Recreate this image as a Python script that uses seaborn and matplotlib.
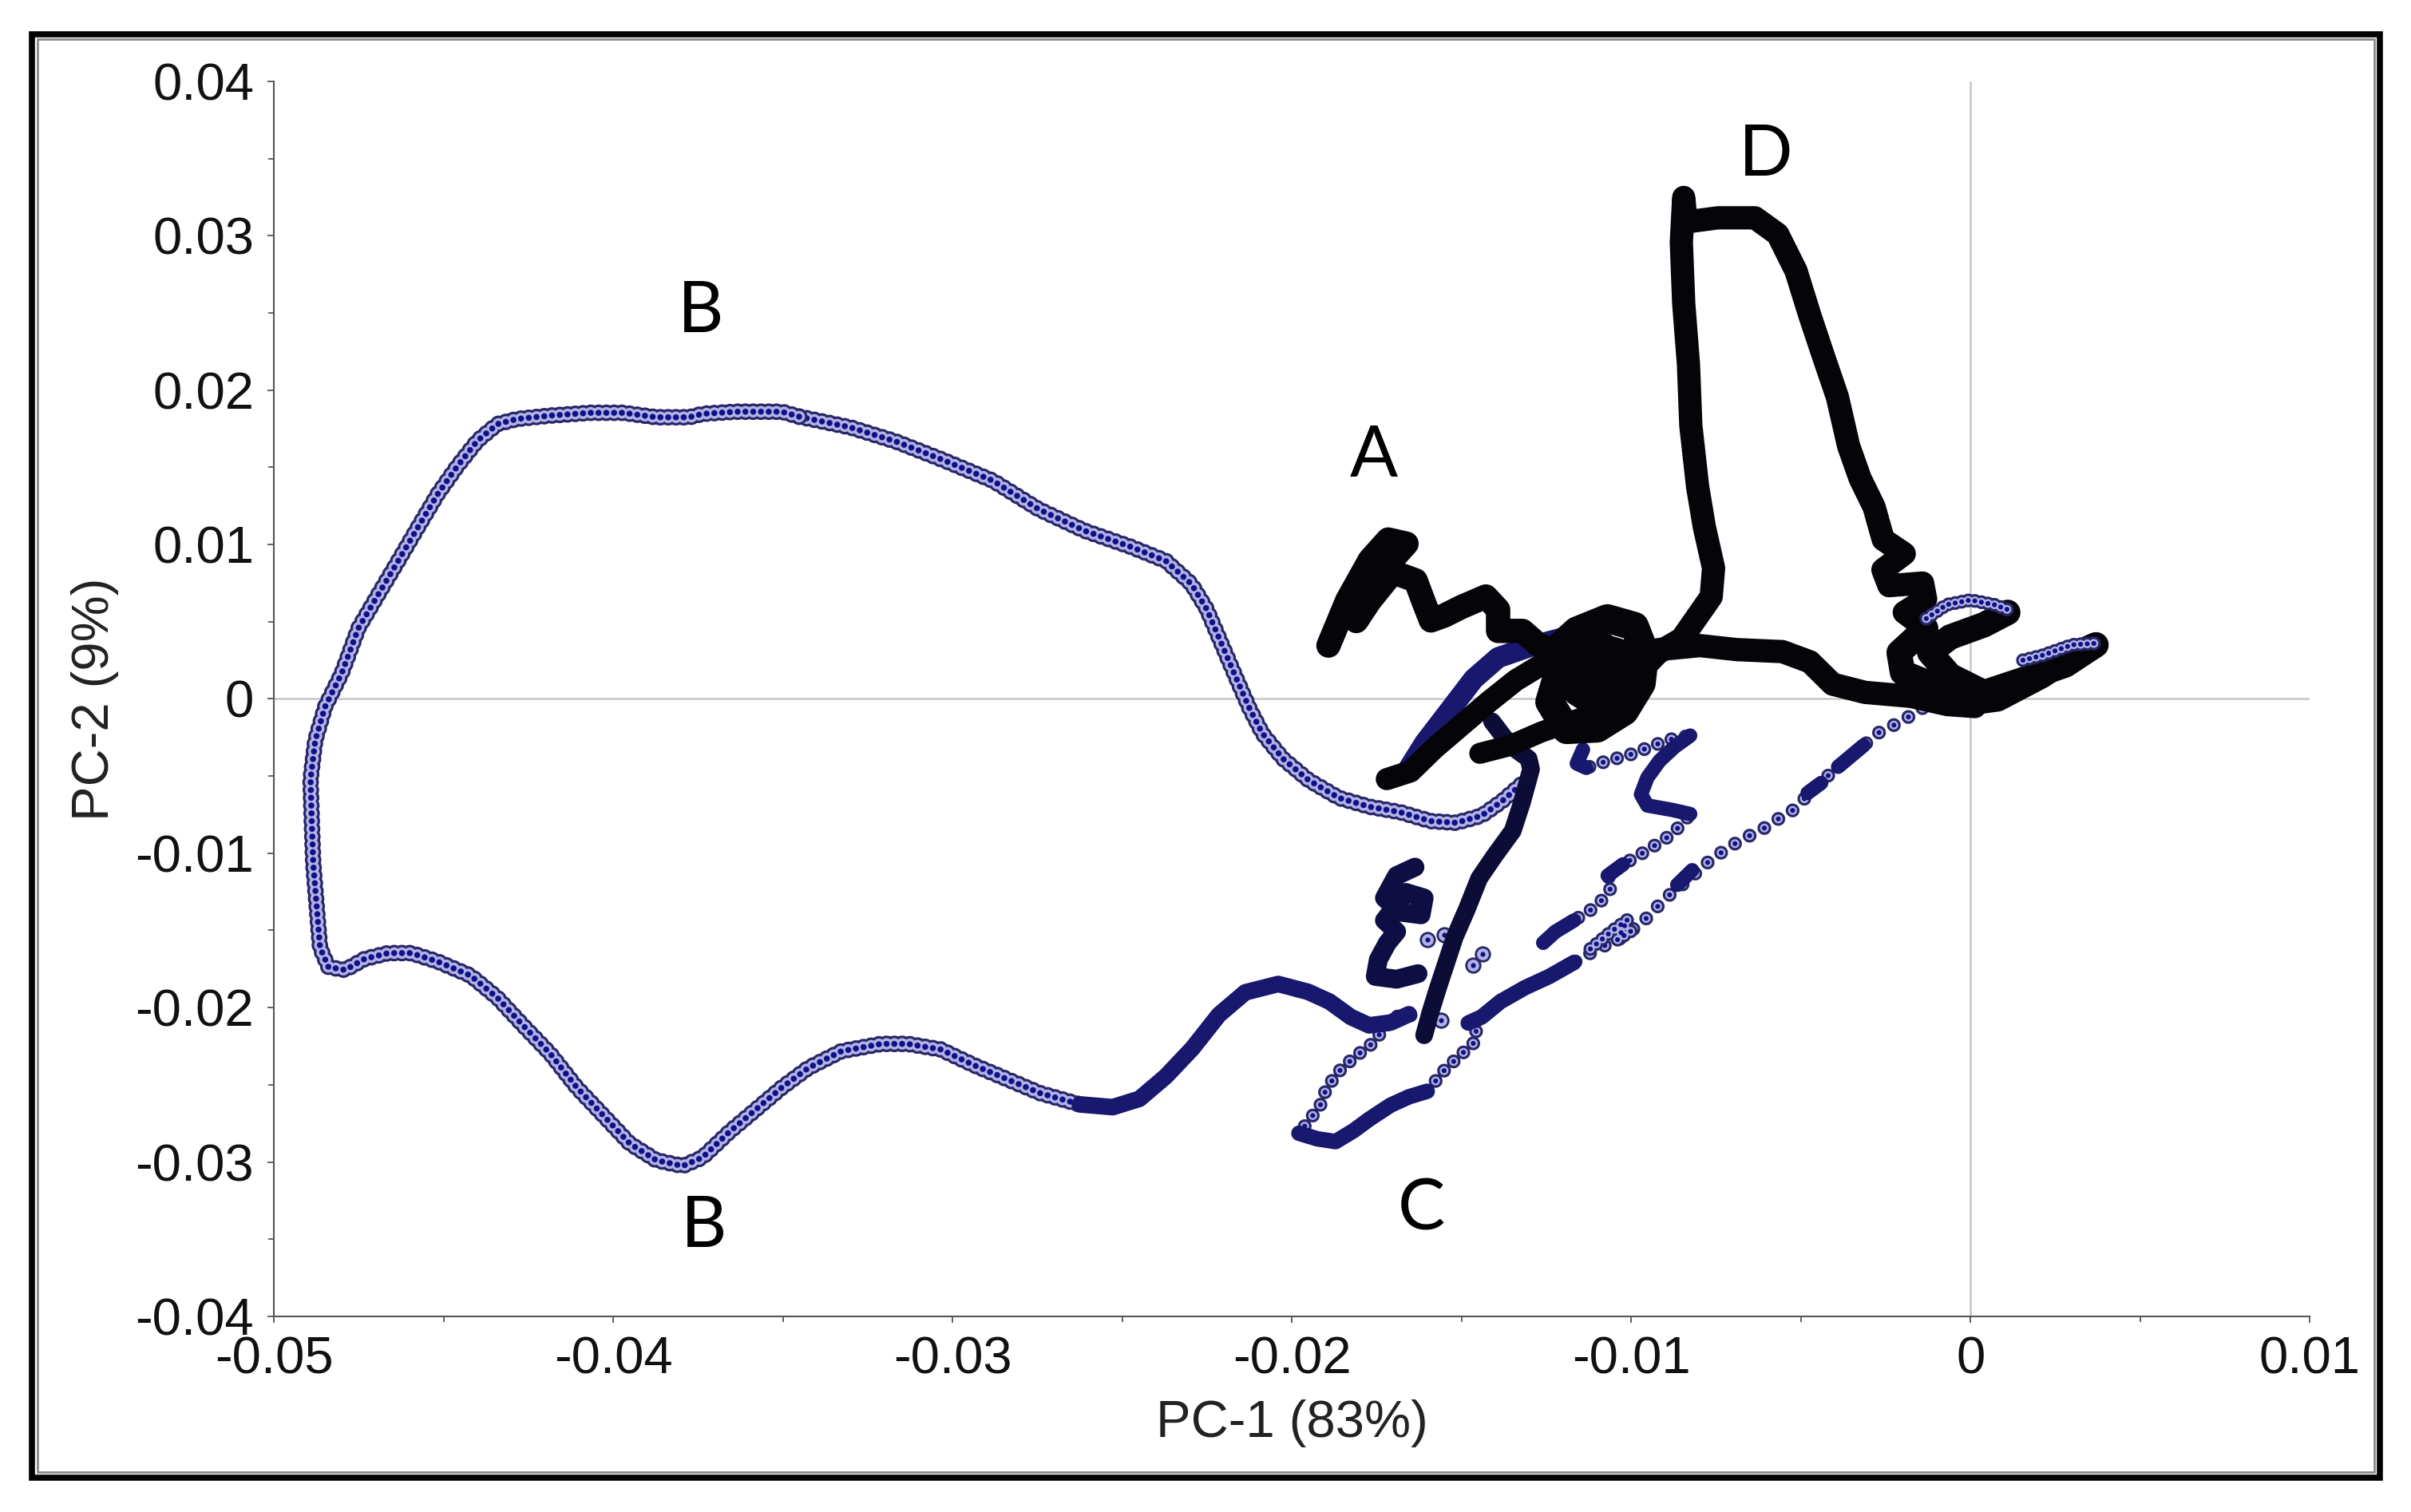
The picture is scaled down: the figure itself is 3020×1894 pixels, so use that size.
import matplotlib
matplotlib.use("Agg")
import matplotlib.pyplot as plt
from matplotlib.patches import Rectangle
from matplotlib.ticker import MultipleLocator
import seaborn as sns

# PCA score trajectory (PC-1, PC-2)

# loop B: upper right arc and the outer sweep (sparse beads)
b_arc_x = [-0.03452, -0.03302, -0.03167, -0.03032, -0.02881, -0.02746, -0.02611, -0.02476,
           -0.02371, -0.02296, -0.02251, -0.02206, -0.02161, -0.02124, -0.02086, -0.02026,
           -0.01951, -0.01861, -0.01771, -0.01681, -0.01591, -0.01516, -0.01441, -0.01381, -0.01321]
b_arc_y = [0.01828, 0.01759, 0.01667, 0.01551, 0.01413, 0.01228, 0.01089, 0.00986,
           0.00893, 0.00744, 0.00582, 0.00351, 0.0012, -0.00065, -0.00226, -0.00388,
           -0.00526, -0.00642, -0.00699, -0.00734, -0.00792, -0.00803, -0.00757, -0.00664, -0.00549]

b_outer_x = [-0.03452, -0.03503, -0.03639, -0.03737, -0.03776, -0.03873, -0.03971, -0.04068,
             -0.04185, -0.04283, -0.04341, -0.044, -0.04459, -0.04517, -0.04576, -0.04634,
             -0.04693, -0.04751, -0.048, -0.04849, -0.04878, -0.04892, -0.04888, -0.04884,
             -0.04872, -0.04864, -0.04839, -0.0479, -0.04732, -0.04663, -0.04595, -0.04517,
             -0.0442, -0.04341, -0.04264, -0.04185, -0.04107, -0.04029, -0.03951, -0.03873,
             -0.03795, -0.03737, -0.03659, -0.03581, -0.03503, -0.03425, -0.03327, -0.0321,
             -0.03132, -0.03035, -0.02937, -0.0284, -0.02742, -0.02625]
b_outer_y = [0.01828, 0.0186, 0.0186, 0.01846, 0.01824, 0.01824, 0.01853, 0.01853,
             0.01835, 0.01813, 0.0178, 0.01672, 0.01508, 0.01327, 0.01109, 0.00892,
             0.00674, 0.00457, 0.00166, -0.00051, -0.00269, -0.00523, -0.00813, -0.01067,
             -0.01394, -0.01611, -0.01738, -0.01756, -0.01684, -0.01647, -0.01647, -0.01702,
             -0.01793, -0.01937, -0.02119, -0.023, -0.02518, -0.02699, -0.02881, -0.02989,
             -0.03026, -0.02971, -0.02808, -0.02663, -0.02518, -0.02391, -0.02282, -0.02235,
             -0.02235, -0.02271, -0.02373, -0.02463, -0.02554, -0.02627]

# loop B, denser tail running into the knot
b_tail_x = [-0.02625, -0.02528, -0.02449, -0.02371, -0.02293, -0.02215, -0.02137, -0.0204,
            -0.01952, -0.01889, -0.01826, -0.01772, -0.01709, -0.01655]
b_tail_y = [-0.02627, -0.02645, -0.02591, -0.02445, -0.02264, -0.02047, -0.01901, -0.01847,
            -0.01898, -0.01961, -0.02061, -0.02115, -0.02097, -0.02043]

# region A squiggle
a_x = [-0.01892, -0.01837, -0.0177, -0.01716, -0.01662, -0.01716, -0.0177, -0.0181, -0.0177,
       -0.01702, -0.01635, -0.0161, -0.0159, -0.0155, -0.015, -0.01428, -0.01392, -0.01392,
       -0.0132, -0.01275, -0.0122]
a_y = [0.00345, 0.00636, 0.009, 0.01032, 0.01005, 0.00873, 0.00689, 0.00504, 0.00636,
       0.00821, 0.00767, 0.0062, 0.00508, 0.0054, 0.00595, 0.00663, 0.00578, 0.0044,
       0.0044, 0.00353, 0.003]

# tangle between A and the origin
tangle_outer_x = [-0.01662, -0.01608, -0.01536, -0.01464, -0.01392, -0.01302, -0.01212, -0.0114]
tangle_outer_y = [-0.00474, -0.00284, -0.00078, 0.00129, 0.00267, 0.00336, 0.00388, 0.0044]
tangle_inner_x = [-0.0172, -0.0165, -0.0158, -0.015, -0.0142, -0.0134, -0.0125, -0.0116, -0.0108]
tangle_inner_y = [-0.0052, -0.0047, -0.0032, -0.0017, -0.0002, 0.0012, 0.0024, 0.0032, 0.0036]
tangle_cross_x = [-0.01446, -0.01356, -0.01266, -0.01176, -0.0108]
tangle_cross_y = [-0.00353, -0.00302, -0.00216, -0.00146, -0.0008]
blob_x = [-0.0123, -0.0116, -0.0107, -0.0099, -0.0096, -0.0097, -0.0102, -0.011, -0.0119,
          -0.0124, -0.0121, -0.0112, -0.0104, -0.0103, -0.0109, -0.0116, -0.0113, -0.0108, -0.0106]
blob_y = [0.003, 0.0044, 0.0052, 0.0047, 0.003, 0.001, -0.0008, -0.0019, -0.002,
          -0.0002, 0.002, 0.0035, 0.003, 0.001, -0.0005, 0.0005, 0.0025, 0.0018, 0.0008]

# excursion D
d_x = [-0.01, -0.0092, -0.00851, -0.00764, -0.00757, -0.00784, -0.00804, -0.00824, -0.00831,
       -0.00845, -0.00852, -0.00845, -0.00838, -0.00744, -0.00635, -0.00568, -0.00514, -0.00473,
       -0.00433, -0.00392, -0.00359, -0.00325, -0.00284, -0.00257, -0.00195, -0.00258, -0.0024,
       -0.00141, -0.00132, -0.00195, -0.00132]
d_y = [0.0012, 0.003, 0.00388, 0.00662, 0.00847, 0.01111, 0.01374, 0.0177, 0.02166,
       0.02562, 0.02957, 0.03248, 0.03089, 0.03116, 0.03116, 0.0301, 0.02772, 0.02482,
       0.02219, 0.01955, 0.01638, 0.01427, 0.01243, 0.01032, 0.0094, 0.00836, 0.00733,
       0.0075, 0.00646, 0.0056, 0.00457]
d_base_x = [-0.00919, -0.00797, -0.00689, -0.00554, -0.00473, -0.00406, -0.00311, -0.00176,
            -0.00068, 0.00013]
d_base_y = [0.00319, 0.00345, 0.00319, 0.00306, 0.0024, 0.00095, 0.00042, 0.00016,
            -0.00037, -0.0005]

# knot around the origin
knot_x = [-0.00132, -0.0021, -0.002, -0.001, -0.0002, 0.0008, 0.0021, 0.003, 0.0037, 0.0028,
          0.0015, 0.0004, -0.0006, -0.0012, -0.0006, 0.0004, 0.0011]
knot_y = [0.00457, 0.003, 0.0017, 0.0008, -0.0003, 0.0, 0.0015, 0.0028, 0.0035, 0.0022,
          0.0012, 0.0004, 0.0015, 0.003, 0.004, 0.0048, 0.0056]
knot_top_x = [-0.0013, -0.0007, 0.0, 0.0007, 0.0012]
knot_top_y = [0.0052, 0.0061, 0.0064, 0.0061, 0.0057]
knot_spike_x = [0.00155, 0.0021, 0.003, 0.0037]
knot_spike_y = [0.0025, 0.0028, 0.0035, 0.0036]

# strand dropping from the tangle towards C, and the small "2" shaped squiggle
drop_x = [-0.0141, -0.01356, -0.01302, -0.01295, -0.01322, -0.01349, -0.01403, -0.01448,
          -0.01484, -0.0152, -0.01547, -0.01569, -0.01592, -0.0161]
drop_y = [-0.00146, -0.00302, -0.00388, -0.00456, -0.00673, -0.00855, -0.01018, -0.01163,
          -0.01362, -0.01544, -0.01725, -0.01871, -0.02034, -0.02179]
squig_x = [-0.01637, -0.01691, -0.01727, -0.01682, -0.01619, -0.0161, -0.01664, -0.01727,
           -0.01691, -0.01718, -0.01745, -0.01754, -0.01691, -0.01628]
squig_y = [-0.0109, -0.01145, -0.0129, -0.01381, -0.01399, -0.0129, -0.01254, -0.01435,
           -0.01508, -0.0158, -0.01689, -0.01798, -0.01816, -0.0178]

# region C: left side, base and rise
c_left_x = [-0.0165, -0.017, -0.01763, -0.01817, -0.01862, -0.01898, -0.01916, -0.01952, -0.01979]
c_left_y = [-0.0205, -0.0206, -0.02233, -0.02324, -0.02415, -0.02523, -0.02632, -0.02741, -0.02814]
c_base_x = [-0.01979, -0.01925, -0.01871, -0.01817, -0.01772, -0.01709, -0.01655, -0.01601]
c_base_y = [-0.02814, -0.0285, -0.02868, -0.02796, -0.02723, -0.02632, -0.02578, -0.02542]
c_rise_x = [-0.01601, -0.01547, -0.01502, -0.01457, -0.01457]
c_rise_y = [-0.02542, -0.02397, -0.02306, -0.02215, -0.02088]

# long lower diagonal back to the origin
low_x = [-0.01457, -0.01385, -0.01313, -0.01241, -0.01168, -0.01096, -0.01024, -0.00961,
         -0.00898, -0.00826, -0.00785, -0.00715, -0.00668, -0.00613, -0.00565, -0.00518,
         -0.00464, -0.00416, -0.00362, -0.00315, -0.00268, -0.0022, -0.00165, -0.00118]
low_y = [-0.02088, -0.01961, -0.01871, -0.01798, -0.01707, -0.01617, -0.01544, -0.01435,
         -0.0129, -0.01163, -0.01077, -0.00965, -0.00905, -0.00845, -0.00776, -0.00715,
         -0.00586, -0.00491, -0.00388, -0.00302, -0.00216, -0.00164, -0.00095, -0.00026]
low_dense_x = [-0.0148, -0.0144, -0.01385, -0.01313, -0.01241, -0.01168]
low_dense_y = [-0.021, -0.0206, -0.01961, -0.01871, -0.01798, -0.01707]
low_patches = [([-0.00864, -0.0082], [-0.01205, -0.0111]),
               ([-0.0048, -0.0044], [-0.0061, -0.00545]),
               ([-0.0039, -0.00315], [-0.0044, -0.00302])]

# upper diagonal with the zig-zag
up_x = [-0.01259, -0.01223, -0.01168, -0.01115, -0.01079, -0.01052, -0.01069, -0.01024,
        -0.0098, -0.00934, -0.00889, -0.00853, -0.00826, -0.0088, -0.00952, -0.00971,
        -0.00952, -0.00916, -0.00872, -0.00826, -0.00889, -0.00944, -0.01007, -0.01069,
        -0.01132, -0.0116, -0.01142]
up_y = [-0.0158, -0.01508, -0.01435, -0.01362, -0.0129, -0.012, -0.01145, -0.01072,
        -0.01018, -0.00955, -0.00891, -0.00818, -0.00746, -0.00719, -0.00691, -0.00619,
        -0.0051, -0.00401, -0.00311, -0.00238, -0.00265, -0.00311, -0.00365, -0.00401,
        -0.00447, -0.00419, -0.00329]
up_dense = [([-0.01259, -0.01223, -0.01168], [-0.0158, -0.01508, -0.01435]),
            ([-0.01069, -0.01024], [-0.01145, -0.01072]),
            ([-0.00826, -0.0088, -0.00952, -0.00971, -0.00952, -0.00916, -0.00872, -0.00826],
             [-0.00746, -0.00719, -0.00691, -0.00619, -0.0051, -0.00401, -0.00311, -0.00238]),
            ([-0.01132, -0.0116, -0.01142], [-0.00447, -0.00419, -0.00329])]
mid_beads_x = [-0.0112, -0.0106, -0.0101, -0.0104, -0.0099]
mid_beads_y = [-0.0162, -0.0151, -0.0143, -0.0156, -0.0149]

# loose single scores
loose_x = [-0.016, -0.0155, -0.01466, -0.01439, -0.0156]
loose_y = [-0.0156, -0.0153, -0.01725, -0.01653, -0.0208]

# annotations
letter_text = ["B", "A", "D", "B", "C"]
letter_x = [-0.03743, -0.01758, -0.00603, -0.03734, -0.01618]
letter_y = [0.02505, 0.01569, 0.03521, -0.03421, -0.03312]

x_ticks = [-0.05, -0.04, -0.03, -0.02, -0.01, 0, 0.01]
x_tick_labels = ["-0.05", "-0.04", "-0.03", "-0.02", "-0.01", "0", "0.01"]
y_ticks = [-0.04, -0.03, -0.02, -0.01, 0, 0.01, 0.02, 0.03, 0.04]
y_tick_labels = ["-0.04", "-0.03", "-0.02", "-0.01", "0", "0.01", "0.02", "0.03", "0.04"]

RING = "#262668"
FILL = "#b2b2e4"
DOT = "#10108a"
NAVY = "#18186e"
BLACK = "#050509"

sns.set_style("white")
plt.rcParams["font.family"] = ["Liberation Sans", "DejaVu Sans"]
plt.rcParams["lines.scale_dashes"] = False
plt.rcParams["axes.unicode_minus"] = False

fig = plt.figure(figsize=(30.2, 18.94), dpi=100)
ax = fig.add_axes([0.1136, 0.1294, 0.8444, 0.8168])


def beads(xs, ys, gap, d=15.0, dot=5.5):
    # ring + light fill + centre dot, like the score markers
    for lw, col in [(d, RING), (d - 4.5, FILL), (dot, DOT)]:
        sns.lineplot(x=xs, y=ys, sort=False, estimator=None, color=col, linewidth=lw,
                     linestyle=(0, (0.01, gap)), dash_capstyle="round", ax=ax)


def trace(xs, ys, color, lw=21):
    sns.lineplot(x=xs, y=ys, sort=False, estimator=None, color=color, linewidth=lw,
                 solid_capstyle="round", solid_joinstyle="round", ax=ax)


ax.axhline(0, color="#c6c6c6", lw=1.8, zorder=0)
ax.axvline(0, color="#c6c6c6", lw=1.8, zorder=0)

# sparse parts
beads(b_arc_x, b_arc_y, 7)
beads(b_outer_x, b_outer_y, 7)
beads(c_left_x, c_left_y, 12, 12.5, 4.5)
beads(c_rise_x, c_rise_y, 12, 12.5, 4.5)
beads(low_x, low_y, 15, 12.5, 4.5)
beads(up_x, up_y, 13, 12.5, 4.5)
beads(mid_beads_x, mid_beads_y, 7, 12.5, 4.5)

# dense parts: heavily overlapping scores
trace(b_tail_x, b_tail_y, NAVY, 15)
trace(c_base_x, c_base_y, NAVY, 14)
trace(low_dense_x, low_dense_y, NAVY, 14)
for px, py in low_patches:
    trace(px, py, NAVY, 13)
for px, py in up_dense:
    trace(px, py, NAVY, 13)
trace(squig_x, squig_y, "#0e0e44", 17)
trace(drop_x, drop_y, "#0c0c36", 16)
trace(tangle_outer_x, tangle_outer_y, NAVY, 19)
trace(tangle_inner_x, tangle_inner_y, BLACK, 20)
trace(tangle_cross_x, tangle_cross_y, BLACK, 19)
trace(blob_x, blob_y, BLACK, 26)
trace(a_x, a_y, BLACK, 22)
trace(d_x, d_y, BLACK, 21)
trace(d_base_x, d_base_y, BLACK, 21)
trace(knot_x, knot_y, BLACK, 23)
beads(knot_top_x, knot_top_y, 6, 12.5, 4.5)
beads(knot_spike_x, knot_spike_y, 6, 12.5, 4.5)

sns.scatterplot(x=loose_x, y=loose_y, s=160, facecolor=FILL, edgecolor=RING, linewidth=2, ax=ax)
sns.scatterplot(x=loose_x, y=loose_y, s=20, color=DOT, linewidth=0, ax=ax)

for lx, ly, t in zip(letter_x, letter_y, letter_text):
    ax.text(lx, ly, t, fontsize=64, family=["Lato", "DejaVu Sans"], ha="center", va="center",
            color="black")

ax.set_xlim(-0.05, 0.01)
ax.set_ylim(-0.04, 0.04)
ax.set_xticks(x_ticks, x_tick_labels)
ax.set_yticks(y_ticks, y_tick_labels)
ax.xaxis.set_minor_locator(MultipleLocator(0.005))
ax.yaxis.set_minor_locator(MultipleLocator(0.005))
ax.tick_params(which="both", bottom=True, left=True, direction="out", color="#555555", width=1.3)
ax.tick_params(which="major", length=6, pad=12, labelsize=47, labelcolor="#111111")
ax.tick_params(which="minor", length=5)

sns.despine(ax=ax)
for side in ["left", "bottom"]:
    ax.spines[side].set_color("#555555")
    ax.spines[side].set_linewidth(1.5)

ax.set_xlabel("PC-1 (83%)", fontsize=47, color="#222222")
ax.set_ylabel("PC-2 (9%)", fontsize=47, color="#222222")
ax.xaxis.set_label_coords(0.5, -0.0866)
ax.yaxis.set_label_coords(-0.0878, 0.5)
ax.xaxis.label.set_verticalalignment("center")
ax.yaxis.label.set_verticalalignment("center")

# frame around the whole picture
fig.add_artist(Rectangle((0.01325, 0.0227), 0.97385, 0.9546, transform=fig.transFigure,
                         fill=False, lw=5.5, edgecolor="black"))
fig.add_artist(Rectangle((0.0154, 0.02614), 0.96937, 0.94799, transform=fig.transFigure,
                         fill=False, lw=2, edgecolor="#8a8a8a"))

fig.savefig("out.png", dpi=100)
